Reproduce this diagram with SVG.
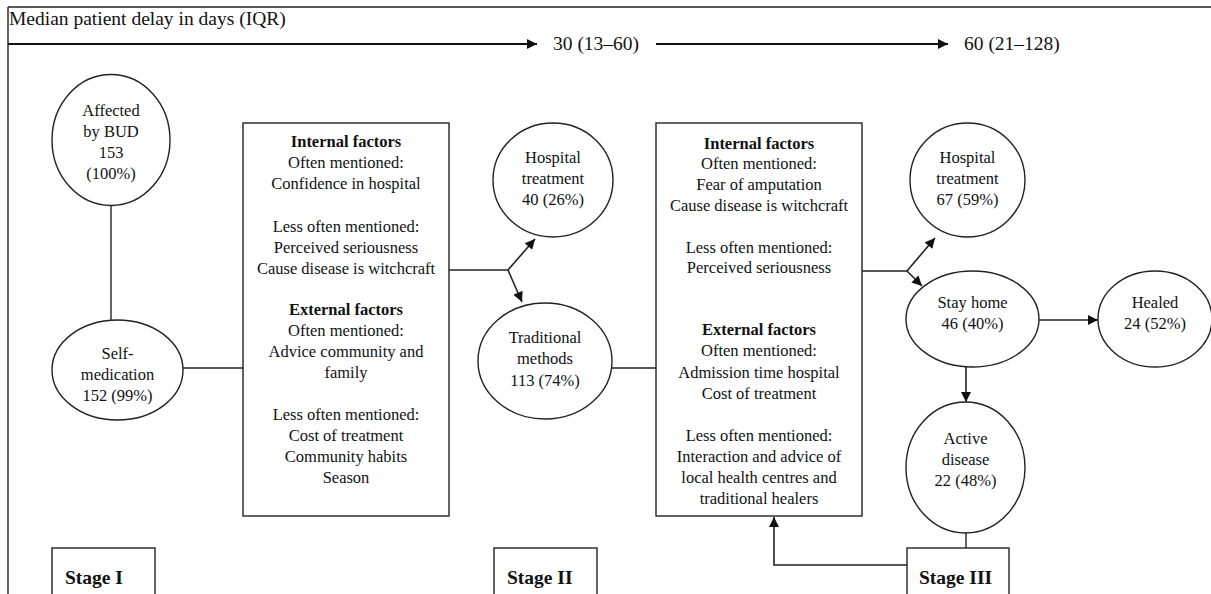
<svg xmlns="http://www.w3.org/2000/svg" width="1211" height="594" viewBox="0 0 1211 594">
<style>
text{font-family:"Liberation Serif","Times New Roman",serif;font-size:16.5px;fill:#111;text-anchor:middle}
.b{font-weight:bold}
.st{font-weight:bold;font-size:19.5px;text-anchor:start}
.hd{font-size:19.5px;text-anchor:start}
.shape{fill:#fff;stroke:#222;stroke-width:1.4}
.ln{fill:none;stroke:#222;stroke-width:1.4}
.ar{fill:none;stroke:#222;stroke-width:1.6;marker-end:url(#ah)}
.har{fill:none;stroke:#111;stroke-width:2.2;marker-end:url(#hah)}
</style>
<defs>
<marker id="ah" viewBox="0 0 10 10" refX="10" refY="5" markerUnits="userSpaceOnUse" markerWidth="11" markerHeight="10" orient="auto"><path d="M0,0 L10,5 L0,10 z" fill="#111"/></marker>
<marker id="hah" viewBox="0 0 10 10" refX="10" refY="5" markerUnits="userSpaceOnUse" markerWidth="12" markerHeight="10" orient="auto"><path d="M0,0 L10,5 L0,10 z" fill="#111"/></marker>
</defs>
<rect width="1211" height="594" fill="#fff"/>
<g id="frame">
<line class="ln" x1="8" y1="7" x2="1211" y2="7" stroke-width="1.8"/>
<line class="ln" x1="8" y1="7" x2="8" y2="594" stroke-width="1.8"/>
<text class="hd" x="9" y="25">Median patient delay in days (IQR)</text>
</g>
<g id="connectors">
<line class="har" x1="8" y1="44" x2="537" y2="44"/>
<line class="har" x1="656" y1="44" x2="948" y2="44"/>
<line class="ln" x1="111" y1="205" x2="111" y2="320"/>
<line class="ln" x1="183" y1="368" x2="243" y2="368"/>
<polyline class="ln" points="449,270 508,270"/>
<line class="ar" x1="508" y1="270" x2="535" y2="239"/>
<line class="ar" x1="508" y1="270" x2="522" y2="302"/>
<line class="ln" x1="612" y1="368" x2="656" y2="368"/>
<polyline class="ln" points="862,271 907,271"/>
<line class="ar" x1="907" y1="271" x2="935" y2="238"/>
<line class="ar" x1="907" y1="271" x2="922" y2="286"/>
<line class="ar" x1="1039" y1="320" x2="1098" y2="320"/>
<line class="ar" x1="966" y1="367" x2="966" y2="402"/>
<line class="ln" x1="966" y1="533" x2="966" y2="548"/>
<polyline class="ar" points="907,565 774,565 774,517"/>
</g>
<g id="delay30"><text class="hd" x="553" y="50">30 (13–60)</text></g>
<g id="delay60"><text class="hd" x="964" y="50">60 (21–128)</text></g>
<g id="affected">
<ellipse class="shape" cx="111" cy="140" rx="59" ry="65.5"/>
<text x="111" y="116">Affected</text>
<text x="111" y="137">by BUD</text>
<text x="111" y="158">153</text>
<text x="111" y="179">(100%)</text>
</g>
<g id="selfmed">
<ellipse class="shape" cx="117.5" cy="370" rx="65.5" ry="50"/>
<text x="117.5" y="359">Self-</text>
<text x="117.5" y="380">medication</text>
<text x="117.5" y="401">152 (99%)</text>
</g>
<g id="factors1">
<rect class="shape" x="243" y="123" width="206" height="393"/>
<text class="b" x="346" y="147">Internal factors</text>
<text x="346" y="168">Often mentioned:</text>
<text x="346" y="189">Confidence in hospital</text>
<text x="346" y="232">Less often mentioned:</text>
<text x="346" y="253">Perceived seriousness</text>
<text x="346" y="274">Cause disease is witchcraft</text>
<text class="b" x="346" y="315">External factors</text>
<text x="346" y="336">Often mentioned:</text>
<text x="346" y="357">Advice community and</text>
<text x="346" y="378">family</text>
<text x="346" y="420">Less often mentioned:</text>
<text x="346" y="441">Cost of treatment</text>
<text x="346" y="462">Community habits</text>
<text x="346" y="483">Season</text>
</g>
<g id="hospital1">
<ellipse class="shape" cx="553" cy="180" rx="60" ry="57"/>
<text x="553" y="163">Hospital</text>
<text x="553" y="184">treatment</text>
<text x="553" y="205">40 (26%)</text>
</g>
<g id="traditional">
<ellipse class="shape" cx="545" cy="361" rx="67" ry="58"/>
<text x="545" y="343">Traditional</text>
<text x="545" y="364">methods</text>
<text x="545" y="386">113 (74%)</text>
</g>
<g id="factors2">
<rect class="shape" x="656" y="123" width="206" height="393"/>
<text class="b" x="759" y="149">Internal factors</text>
<text x="759" y="169">Often mentioned:</text>
<text x="759" y="190">Fear of amputation</text>
<text x="759" y="211">Cause disease is witchcraft</text>
<text x="759" y="253">Less often mentioned:</text>
<text x="759" y="273">Perceived seriousness</text>
<text class="b" x="759" y="335">External factors</text>
<text x="759" y="356">Often mentioned:</text>
<text x="759" y="378">Admission time hospital</text>
<text x="759" y="399">Cost of treatment</text>
<text x="759" y="441">Less often mentioned:</text>
<text x="759" y="462">Interaction and advice of</text>
<text x="759" y="483">local health centres and</text>
<text x="759" y="504">traditional healers</text>
</g>
<g id="hospital2">
<ellipse class="shape" cx="967.5" cy="180" rx="57.5" ry="57"/>
<text x="967.5" y="163">Hospital</text>
<text x="967.5" y="184">treatment</text>
<text x="967.5" y="205">67 (59%)</text>
</g>
<g id="stayhome">
<ellipse class="shape" cx="972.5" cy="319" rx="66.5" ry="48"/>
<text x="972.5" y="308">Stay home</text>
<text x="972.5" y="329">46 (40%)</text>
</g>
<g id="healed">
<ellipse class="shape" cx="1155" cy="319" rx="57" ry="48"/>
<text x="1155" y="308">Healed</text>
<text x="1155" y="329">24 (52%)</text>
</g>
<g id="active">
<ellipse class="shape" cx="965.5" cy="467.5" rx="59.5" ry="65.5"/>
<text x="965.5" y="444">Active</text>
<text x="965.5" y="465">disease</text>
<text x="965.5" y="486">22 (48%)</text>
</g>
<g id="stage1">
<rect class="shape" x="52" y="548" width="103" height="60"/>
<text class="st" x="65" y="584">Stage I</text>
</g>
<g id="stage2">
<rect class="shape" x="494" y="548" width="103" height="60"/>
<text class="st" x="507" y="584">Stage II</text>
</g>
<g id="stage3">
<rect class="shape" x="907" y="548" width="102" height="60"/>
<text class="st" x="919" y="584">Stage III</text>
</g>
</svg>
